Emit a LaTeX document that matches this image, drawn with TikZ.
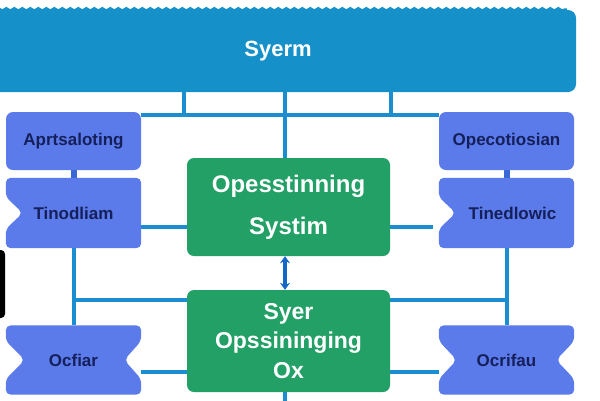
\documentclass[tikz,border=0pt]{standalone}
\usepackage{fontspec}
\setmainfont{Liberation Sans}
\usetikzlibrary{arrows.meta,calc,decorations.pathmorphing}
\pgfdeclarelayer{wires}
\pgfdeclarelayer{background}
\pgfsetlayers{wires,background,main}

\definecolor{barblue}{HTML}{1690C8}
\definecolor{boxblue}{HTML}{5B7BEA}
\definecolor{linkblue}{HTML}{3A68D6}
\definecolor{boxgreen}{HTML}{22A066}
\definecolor{wireblue}{HTML}{1A8ED0}
\definecolor{arrowblue}{HTML}{1466C8}
\definecolor{navy}{HTML}{15205A}

\tikzset{
  topbar/.style={fill=barblue, rounded corners=8pt, minimum width=596pt, minimum height=82pt,
    inner sep=0pt, text=white, font=\bfseries\fontsize{22}{26}\selectfont},
  bluebox/.style={minimum width=135pt, inner sep=0pt, text=navy,
    font=\bfseries\fontsize{17}{19}\selectfont},
  plainbox/.style={bluebox, fill=boxblue, rounded corners=7pt},
  greenbox/.style={fill=boxgreen, rounded corners=7pt, minimum width=203pt, inner sep=0pt,
    text=white, align=center, font=\bfseries\fontsize{24}{42}\selectfont},
  wire/.style={wireblue, line width=4pt},
  link/.style={linkblue, line width=6pt},
  updown/.style={arrowblue, line width=4.5pt, {Stealth[length=7pt,width=10pt]}-{Stealth[length=7pt,width=10pt]}},
}

% blue box with V cuts: node, left depth, right depth, half height of the cut
\newcommand\notchbox[4]{%
  \begin{pgfonlayer}{background}
    \fill[boxblue, rounded corners=5pt] (#1.north west) -- (#1.north east)
      -- ($(#1.east)+(0,-#4)$) -- ($(#1.east)+(-#3,0)$) -- ($(#1.east)+(0,#4)$)
      -- (#1.south east) -- (#1.south west)
      -- ($(#1.west)+(0,#4)$) -- ($(#1.west)+(#2,0)$) -- ($(#1.west)+(0,-#4)$) -- cycle;
  \end{pgfonlayer}}

\begin{document}
\begin{tikzpicture}[x=1pt,y=-1pt]
  \useasboundingbox (0,0) rectangle (600,400);

  % top bar
  \node[topbar] (sys) at (278,51) {Syerm};
  \draw[barblue, line width=3pt, decorate, decoration={snake, segment length=8pt, amplitude=1.2pt}]
    (sys.north west) -- ([xshift=-9pt]sys.north east);

  % left column
  \node[plainbox, minimum height=58pt] (apr) at (73.5,141) {Aprtsaloting};
  \node[bluebox, minimum height=70pt] (tin) at (73.5,213) {Tinodliam};
  \node[bluebox, minimum height=69pt] (ocf) at (73.5,360) {Ocfiar};
  \notchbox{tin}{17}{0}{16}
  \notchbox{ocf}{19}{17}{19}

  % right column
  \node[plainbox, minimum height=58pt] (ope) at (506.5,141) {Opecotiosian};
  \node[bluebox, minimum height=70pt] (tir) at (506.5,213) {\hspace*{12pt}Tinedlowic};
  \node[bluebox, minimum height=69pt] (ocr) at (506.5,360) {Ocrifau};
  \notchbox{tir}{17}{0}{16}
  \notchbox{ocr}{18}{18}{19}

  % middle
  \node[greenbox, minimum height=98pt] (os) at (288.5,207) {Opesstinning\\Systim};
  \node[greenbox, minimum height=102pt, font=\bfseries\fontsize{23}{29.5}\selectfont]
    (core) at (288.5,341) {Syer\\Opssininging\\Ox};

  \node[fill=black, rounded corners=4pt, minimum width=15pt, minimum height=68pt, inner sep=0pt]
    (edge) at (-2.5,284) {};

  \coordinate (tapA) at (184,115);
  \coordinate (tapB) at (285,115);
  \coordinate (tapC) at (391,115);
  \coordinate (railA) at (0,227);
  \coordinate (railB) at (0,300);
  \coordinate (railC) at (0,372);
  \coordinate (stub) at (285,402);

  \begin{pgfonlayer}{wires}
    \draw[wire] (apr.east |- tapA) -- (ope.west |- tapA);
    \foreach \t in {tapA,tapB,tapC}
      \draw[wire] (sys.south -| \t) -- (\t);
    \draw[wire] (tapB) -- (os.north -| tapB);
    \draw[wire] (tin.east |- railA) -- (os.west |- railA);
    \draw[wire] (os.east |- railA) -- ([xshift=-6pt]tir.west |- railA);
    \draw[wire] (tin.south) -- (ocf.north);
    \draw[wire] (tir.south) -- (ocr.north);
    \draw[wire] (tin.south |- railB) -- (core.west |- railB);
    \draw[wire] (core.east |- railB) -- (tir.south |- railB);
    \draw[wire] (ocf.east |- railC) -- (core.west |- railC);
    \draw[wire] (core.east |- railC) -- (ocr.west |- railC);
    \draw[wire] (core.south -| tapB) -- (stub);
    \draw[link] (apr.south) -- (tin.north);
    \draw[link] (ope.south) -- (tir.north);
  \end{pgfonlayer}
  \draw[updown] (os.south -| tapB) -- (core.north -| tapB);
\end{tikzpicture}
\end{document}
